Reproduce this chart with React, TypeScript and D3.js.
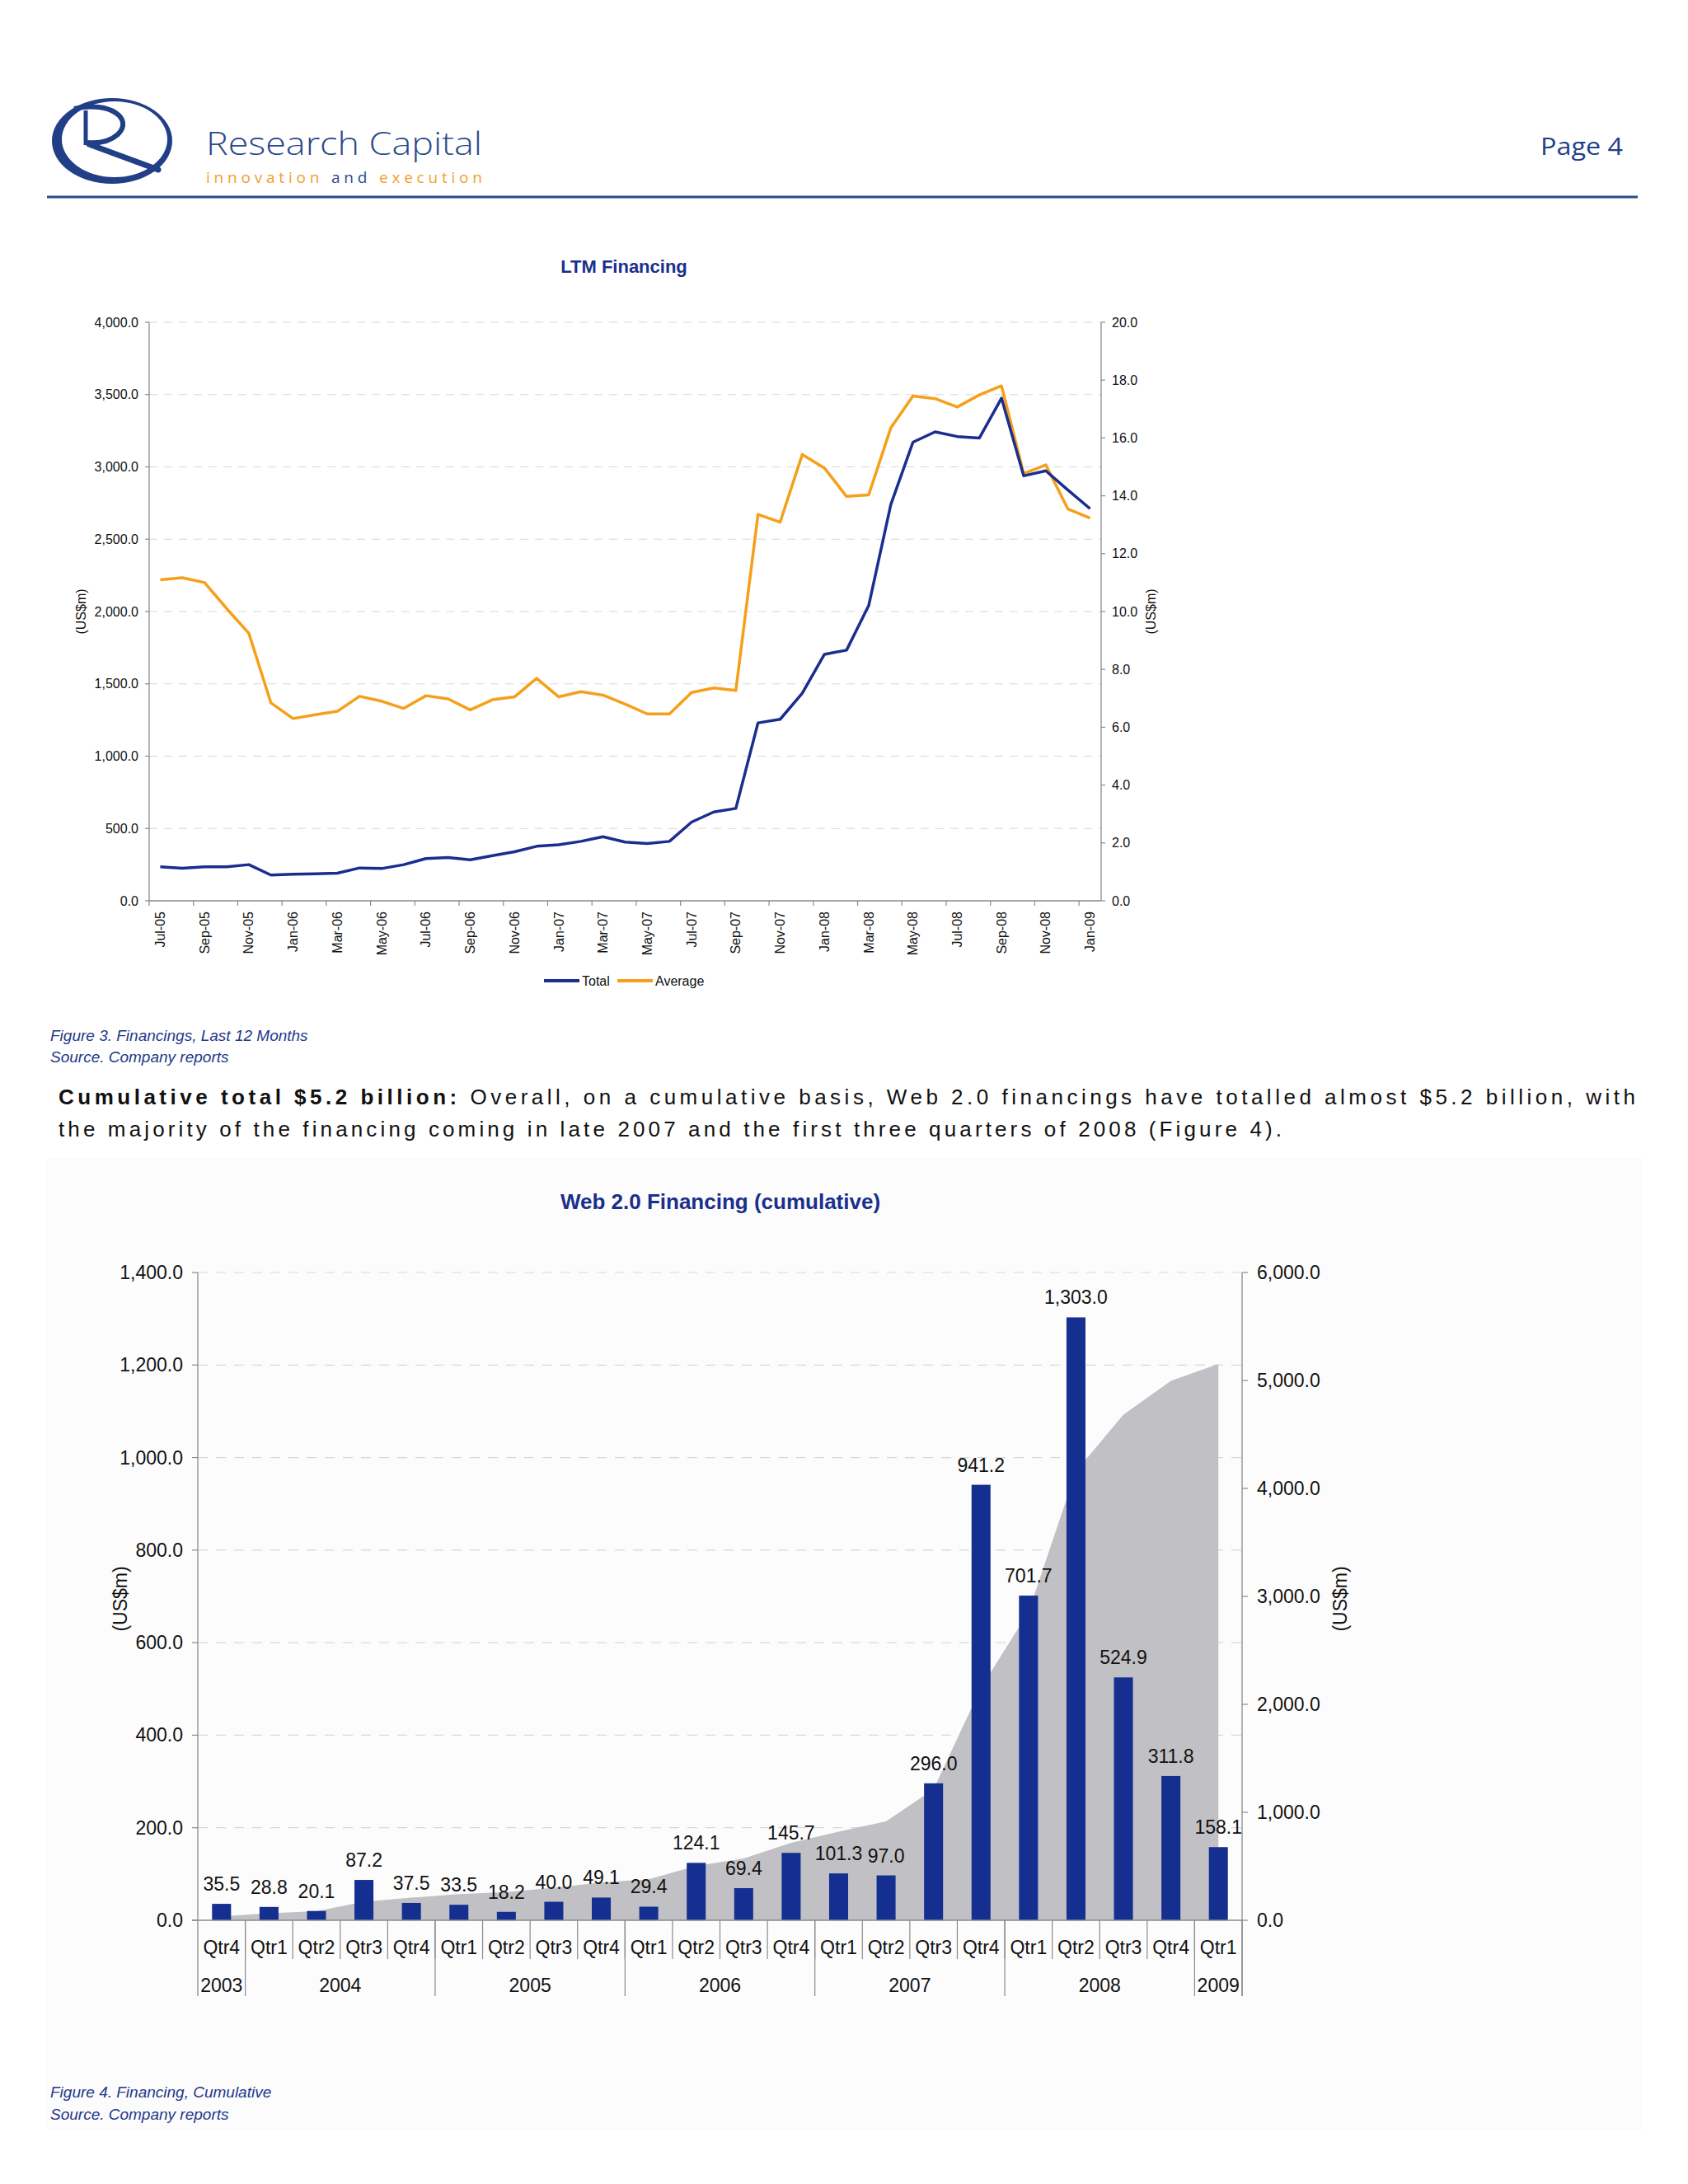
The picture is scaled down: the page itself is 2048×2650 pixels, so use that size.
import React from "react";
import * as d3 from "d3";

// ---------- Chart 1 data (LTM Financing) ----------
const months = [
  "Jul-05", "Aug-05", "Sep-05", "Oct-05", "Nov-05", "Dec-05",
  "Jan-06", "Feb-06", "Mar-06", "Apr-06", "May-06", "Jun-06",
  "Jul-06", "Aug-06", "Sep-06", "Oct-06", "Nov-06", "Dec-06",
  "Jan-07", "Feb-07", "Mar-07", "Apr-07", "May-07", "Jun-07",
  "Jul-07", "Aug-07", "Sep-07", "Oct-07", "Nov-07", "Dec-07",
  "Jan-08", "Feb-08", "Mar-08", "Apr-08", "May-08", "Jun-08",
  "Jul-08", "Aug-08", "Sep-08", "Oct-08", "Nov-08", "Dec-08",
  "Jan-09",
];
const ltmTotal = [
  235, 225, 235, 235, 250, 178,
  184, 187, 191, 227, 223, 250,
  292, 299, 284, 312, 339, 377,
  388, 411, 443, 406, 396, 411,
  544, 614, 639, 1230, 1255, 1435,
  1704, 1733, 2041, 2740, 3171, 3242,
  3210, 3200, 3475, 2938, 2973, 2840,
  2711,
];
const ltmAverage = [
  11.1, 11.17, 11.0, 10.1, 9.25, 6.84,
  6.3, 6.43, 6.55, 7.07, 6.9, 6.65,
  7.09, 6.98, 6.6, 6.95, 7.05, 7.69,
  7.05, 7.23, 7.11, 6.8, 6.46, 6.46,
  7.2, 7.36, 7.27, 13.36, 13.09, 15.43,
  14.96, 13.98, 14.03, 16.35, 17.45, 17.36,
  17.07, 17.49, 17.8, 14.77, 15.07, 13.54,
  13.23,
];
const ltmLeftTicks = [0, 500, 1000, 1500, 2000, 2500, 3000, 3500, 4000];
const ltmRightTicks = [0, 2, 4, 6, 8, 10, 12, 14, 16, 18, 20];

// ---------- Chart 2 data (Web 2.0 cumulative) ----------
const quarters = [
  "Qtr4",
  "Qtr1", "Qtr2", "Qtr3", "Qtr4",
  "Qtr1", "Qtr2", "Qtr3", "Qtr4",
  "Qtr1", "Qtr2", "Qtr3", "Qtr4",
  "Qtr1", "Qtr2", "Qtr3", "Qtr4",
  "Qtr1", "Qtr2", "Qtr3", "Qtr4",
  "Qtr1",
];
const yearGroups = ["2003", "2004", "2005", "2006", "2007", "2008", "2009"];
const yearSpans = [1, 4, 4, 4, 4, 4, 1];
const quarterly = [
  35.5, 28.8, 20.1, 87.2, 37.5, 33.5, 18.2, 40.0, 49.1, 29.4, 124.1,
  69.4, 145.7, 101.3, 97.0, 296.0, 941.2, 701.7, 1303.0, 524.9, 311.8, 158.1,
];
const cumulative = [
  35.5, 64.3, 84.4, 171.6, 209.1, 242.6, 260.8, 300.8, 349.9, 379.3, 503.4,
  572.8, 718.5, 819.8, 916.8, 1212.8, 2154.0, 2855.7, 4158.7, 4683.6, 4995.4, 5153.5,
];
const cumLeftTicks = [0, 200, 400, 600, 800, 1000, 1200, 1400];
const cumRightTicks = [0, 1000, 2000, 3000, 4000, 5000, 6000];

const FONT = "'Liberation Sans', Arial, Helvetica, sans-serif";
const BLUE_TITLE = "#1a2f8c";
const LINE_BLUE = "#1b2e8e";
const LINE_ORANGE = "#f5a01a";
const BAR_BLUE = "#152f91";
const AREA_GREY = "#c1c0c4";
const AXIS = "#8a8a8a";
const GRID = "#d8d8d8";
const CAPTION = "#23388a";

function LtmChart() {
  const L = 181, R = 1336, T = 391, B = 1093;
  const x = d3.scaleBand<string>().domain(months).range([L, R]).padding(0);
  const bw = x.bandwidth();
  const yL = d3.scaleLinear().domain([0, 4000]).range([B, T]);
  const yR = d3.scaleLinear().domain([0, 20]).range([B, T]);
  const cx = (i: number) => (x(months[i]) as number) + bw / 2;
  const totalLine = d3.line<number>().x((_, i) => cx(i)).y((d) => yL(d))(ltmTotal) as string;
  const avgLine = d3.line<number>().x((_, i) => cx(i)).y((d) => yR(d))(ltmAverage) as string;
  const fmt = d3.format(",.1f");
  return (
    <g fontFamily={FONT}>
      <text x={757} y={331} textAnchor="middle" fontSize={22} fontWeight="bold" fill={BLUE_TITLE}>
        LTM Financing
      </text>
      {ltmLeftTicks.filter((t) => t > 0).map((t) => (
        <line key={"g" + t} x1={L} x2={R} y1={yL(t)} y2={yL(t)} stroke={GRID} strokeWidth={1.2} strokeDasharray="10,8" />
      ))}
      <line x1={L} x2={L} y1={T} y2={B} stroke={AXIS} strokeWidth={1.3} />
      <line x1={R} x2={R} y1={T} y2={B} stroke={AXIS} strokeWidth={1.3} />
      <line x1={L} x2={R} y1={B} y2={B} stroke={AXIS} strokeWidth={1.3} />
      {ltmLeftTicks.map((t) => (
        <g key={"lt" + t}>
          <line x1={L - 5} x2={L} y1={yL(t)} y2={yL(t)} stroke={AXIS} strokeWidth={1.2} />
          <text x={L - 13} y={yL(t)} dy="0.35em" textAnchor="end" fontSize={16} fill="#111">
            {fmt(t)}
          </text>
        </g>
      ))}
      {ltmRightTicks.map((t) => (
        <g key={"rt" + t}>
          <line x1={R} x2={R + 5} y1={yR(t)} y2={yR(t)} stroke={AXIS} strokeWidth={1.2} />
          <text x={R + 13} y={yR(t)} dy="0.35em" textAnchor="start" fontSize={16} fill="#111">
            {fmt(t)}
          </text>
        </g>
      ))}
      {months.map((m, i) =>
        i % 2 === 0 ? (
          <g key={"xm" + m}>
            <line x1={x(m) as number} x2={x(m) as number} y1={B} y2={B + 6} stroke={AXIS} strokeWidth={1.2} />
            <text
              transform={`translate(${cx(i)},${B + 13}) rotate(-90)`}
              dy="0.35em"
              textAnchor="end"
              fontSize={16}
              fill="#111"
            >
              {m}
            </text>
          </g>
        ) : null
      )}
      <text transform={`translate(98,742) rotate(-90)`} dy="0.35em" textAnchor="middle" fontSize={16} fill="#111">
        (US$m)
      </text>
      <text transform={`translate(1396,742) rotate(-90)`} dy="0.35em" textAnchor="middle" fontSize={16} fill="#111">
        (US$m)
      </text>
      <path d={avgLine} fill="none" stroke={LINE_ORANGE} strokeWidth={3.5} strokeLinejoin="round" />
      <path d={totalLine} fill="none" stroke={LINE_BLUE} strokeWidth={3.5} strokeLinejoin="round" />
      <line x1={660} x2={703} y1={1190} y2={1190} stroke={LINE_BLUE} strokeWidth={4} />
      <text x={706} y={1190} dy="0.35em" fontSize={16} fill="#111">Total</text>
      <line x1={749} x2={792} y1={1190} y2={1190} stroke={LINE_ORANGE} strokeWidth={4} />
      <text x={795} y={1190} dy="0.35em" fontSize={16} fill="#111">Average</text>
    </g>
  );
}

function CumChart() {
  const L = 240, R = 1507, T = 1544, B = 2330;
  const idx = quarters.map((_, i) => String(i));
  const x = d3.scaleBand<string>().domain(idx).range([L, R]).padding(0);
  const bw = x.bandwidth();
  const yB = d3.scaleLinear().domain([0, 1400]).range([B, T]);
  const yC = d3.scaleLinear().domain([0, 6000]).range([B, T]);
  const cx = (i: number) => (x(String(i)) as number) + bw / 2;
  const area = d3
    .area<number>()
    .x((_, i) => cx(i))
    .y0(B)
    .y1((d) => yC(d))(cumulative) as string;
  const fmt = d3.format(",.1f");
  const barW = bw * 0.4;
  let acc = 0;
  const yearPos = yearSpans.map((s, k) => {
    const start = acc;
    acc += s;
    return { label: yearGroups[k], start, end: acc };
  });
  const boundaryX = (i: number) => (i >= quarters.length ? R : (x(String(i)) as number));
  return (
    <g fontFamily={FONT}>
      <text x={874} y={1467} textAnchor="middle" fontSize={26} fontWeight="bold" fill={BLUE_TITLE}>
        Web 2.0 Financing (cumulative)
      </text>
      {cumLeftTicks.filter((t) => t > 0).map((t) => (
        <line key={"g" + t} x1={L} x2={R} y1={yB(t)} y2={yB(t)} stroke={GRID} strokeWidth={1.2} strokeDasharray="12,10" />
      ))}
      <path d={area} fill={AREA_GREY} />
      {quarterly.map((v, i) => (
        <rect key={"b" + i} x={cx(i) - barW / 2} y={yB(v)} width={barW} height={B - yB(v)} fill={BAR_BLUE} />
      ))}
      {quarterly.map((v, i) => (
        <text key={"bl" + i} x={cx(i)} y={yB(v) - 16} textAnchor="middle" fontSize={23} fill="#111">
          {fmt(v)}
        </text>
      ))}
      <line x1={L} x2={L} y1={T} y2={2422} stroke={AXIS} strokeWidth={1.3} />
      <line x1={R} x2={R} y1={T} y2={2422} stroke={AXIS} strokeWidth={1.3} />
      <line x1={L - 7} x2={R} y1={B} y2={B} stroke={AXIS} strokeWidth={1.3} />
      {cumLeftTicks.map((t) => (
        <g key={"lt" + t}>
          <line x1={L - 7} x2={L} y1={yB(t)} y2={yB(t)} stroke={AXIS} strokeWidth={1.2} />
          <text x={L - 18} y={yB(t)} dy="0.35em" textAnchor="end" fontSize={23} fill="#111">
            {fmt(t)}
          </text>
        </g>
      ))}
      {cumRightTicks.map((t) => (
        <g key={"rt" + t}>
          <line x1={R} x2={R + 7} y1={yC(t)} y2={yC(t)} stroke={AXIS} strokeWidth={1.2} />
          <text x={R + 18} y={yC(t)} dy="0.35em" textAnchor="start" fontSize={23} fill="#111">
            {fmt(t)}
          </text>
        </g>
      ))}
      {quarters.map((q, i) => (
        <g key={"q" + i}>
          {i > 0 ? (
            <line x1={boundaryX(i)} x2={boundaryX(i)} y1={B} y2={2377} stroke={AXIS} strokeWidth={1.2} />
          ) : null}
          <text x={cx(i)} y={2371} textAnchor="middle" fontSize={23} fill="#111">
            {q}
          </text>
        </g>
      ))}
      {yearPos.map((yp) => (
        <g key={"y" + yp.label}>
          <line x1={boundaryX(yp.end)} x2={boundaryX(yp.end)} y1={B} y2={2422} stroke={AXIS} strokeWidth={1.2} />
          <text x={(boundaryX(yp.start) + boundaryX(yp.end)) / 2} y={2417} textAnchor="middle" fontSize={23} fill="#111">
            {yp.label}
          </text>
        </g>
      ))}
      <text transform={`translate(146,1940) rotate(-90)`} dy="0.35em" textAnchor="middle" fontSize={23} fill="#111">
        (US$m)
      </text>
      <text transform={`translate(1626,1940) rotate(-90)`} dy="0.35em" textAnchor="middle" fontSize={23} fill="#111">
        (US$m)
      </text>
    </g>
  );
}

function Header() {
  const ring =
    "M 63 171 A 73 52 0 1 0 209 171 A 73 52 0 1 0 63 171 Z " +
    "M 75 169 A 64 46 0 1 1 203 169 A 64 46 0 1 1 75 169 Z";
  return (
    <g>
      <path d={ring} fill="#213f86" fillRule="evenodd" />
      <path d="M 90 132 C 135 122, 162 145, 143 163 C 133 172, 118 174, 106 173" fill="none" stroke="#213f86" strokeWidth={6} />
      <path d="M 104 134 L 104 176" fill="none" stroke="#213f86" strokeWidth={5} />
      <path d="M 108 175 L 192 206" fill="none" stroke="#213f86" strokeWidth={7} strokeLinecap="round" />
      <text x={250} y={188} fontFamily="'Open Sans', 'DejaVu Sans', sans-serif" fontWeight={300} fontSize={39}
        fill="#2b4a8c" textLength={335} lengthAdjust="spacingAndGlyphs">
        Research Capital
      </text>
      <text x={250} y={222} fontFamily="'Open Sans', 'DejaVu Sans', sans-serif" fontWeight={400} fontSize={19}
        textLength={335} lengthAdjust="spacing">
        <tspan fill="#f0a030">innovation </tspan>
        <tspan fill="#2b4a8c">and </tspan>
        <tspan fill="#f0a030">execution</tspan>
      </text>
      <text x={1969} y={188} textAnchor="end" fontFamily="'Open Sans', 'DejaVu Sans', sans-serif" fontSize={30}
        fontWeight={500} fill="#23408a" textLength={100} lengthAdjust="spacingAndGlyphs">
        Page 4
      </text>
      <line x1={57} x2={1987} y1={239} y2={239} stroke="#2c4a87" strokeWidth={3} />
    </g>
  );
}

export default function App() {
  return (
    <svg
      width={2048}
      height={2650}
      viewBox="0 0 2048 2650"
      style={{ position: "absolute", left: 0, top: 0, background: "#ffffff" }}
    >
      <rect x={0} y={0} width={2048} height={2650} fill="#ffffff" />
      <rect x={57} y={1405} width={1935} height={1180} fill="#fcfcfd" />
      <Header />
      <LtmChart />
      <g fontFamily={FONT} fontStyle="italic" fontSize={19} fill={CAPTION}>
        <text x={61} y={1263}>Figure 3. Financings, Last 12 Months</text>
        <text x={61} y={1289}>Source. Company reports</text>
      </g>
      <g fontFamily={FONT} fontSize={26} fill="#111">
        <text x={71} y={1340} textLength={1913} lengthAdjust="spacing">
          <tspan fontWeight="bold">Cumulative total $5.2 billion:</tspan>
          <tspan> Overall, on a cumulative basis, Web 2.0 financings have totalled almost $5.2 billion, with</tspan>
        </text>
        <text x={71} y={1379} textLength={1484} lengthAdjust="spacing">
          the majority of the financing coming in late 2007 and the first three quarters of 2008 (Figure 4).
        </text>
      </g>
      <CumChart />
      <g fontFamily={FONT} fontStyle="italic" fontSize={19} fill={CAPTION}>
        <text x={61} y={2545}>Figure 4. Financing, Cumulative</text>
        <text x={61} y={2572}>Source. Company reports</text>
      </g>
    </svg>
  );
}
